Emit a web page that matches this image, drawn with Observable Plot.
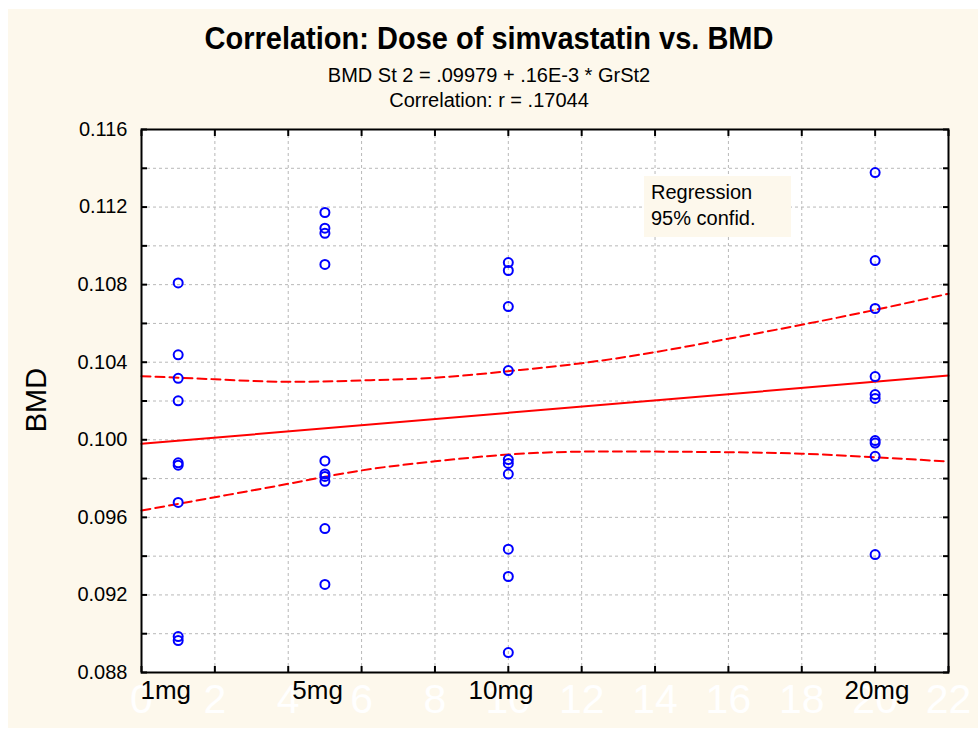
<!DOCTYPE html>
<html><head><meta charset="utf-8">
<script src="https://cdn.jsdelivr.net/npm/d3@7"></script>
<script src="https://cdn.jsdelivr.net/npm/@observablehq/plot@0.6"></script>
<style>
body{margin:0;background:#fff;font-family:"Liberation Sans",Arial,sans-serif;}
#wrap{position:relative;width:978px;height:733px;overflow:hidden;}
#bg{position:absolute;left:8px;top:9px;width:970px;height:719px;background:#fdf8ec;}
.t{position:absolute;left:0;width:978px;text-align:center;line-height:1;color:#000;white-space:nowrap;}
#title{top:25px;font-size:29px;font-weight:bold;transform:scaleY(1.08);transform-origin:50% 85%;}
#sub1{top:65px;font-size:20px;}
#sub2{top:90px;font-size:20px;}
#chart{position:absolute;left:0;top:0;}
#ylab{position:absolute;left:36px;top:400px;font-size:29px;line-height:1;white-space:nowrap;transform:translate(-50%,-50%) rotate(-90deg);}
#legend{position:absolute;left:644px;top:176px;width:140px;height:58px;padding:3px 0 0 7px;background:#fdf8ec;font-size:20px;line-height:26px;white-space:nowrap;}
</style></head>
<body>
<div id="wrap">
  <div id="bg"></div>
  <div id="chart"></div>
  <div class="t" id="title">Correlation: Dose of simvastatin vs. BMD</div>
  <div class="t" id="sub1">BMD St 2 = .09979 + .16E-3 * GrSt2</div>
  <div class="t" id="sub2">Correlation: r = .17044</div>
  <div id="ylab">BMD</div>
  <div id="legend">Regression<br>95% confid.</div>
</div>
<script>
// ---- data ----
const doseGroups = [1, 5, 10, 20];
const bmd1mg  = [0.10809, 0.10438, 0.10317, 0.10201, 0.09881, 0.09869, 0.09677, 0.08985, 0.08965];
const bmd5mg  = [0.11172, 0.11091, 0.11065, 0.10904, 0.09891, 0.09824, 0.09811, 0.09786, 0.09542, 0.09254];
const bmd10mg = [0.10914, 0.10873, 0.10687, 0.10357, 0.09898, 0.09878, 0.09823, 0.09436, 0.09295, 0.08903];
const bmd20mg = [0.11378, 0.10924, 0.10677, 0.10326, 0.10233, 0.10213, 0.09996, 0.09983, 0.09915, 0.09408];

// regression line endpoints (BMD = .09979 + .00016 * dose)
const regX = [0, 22];
const regY = [0.09979, 0.10331];

// 95% confidence band
const bandX     = [0, 2, 4, 6, 8, 10, 12, 14, 16, 18, 20, 22];
const bandUpper = [0.10328, 0.10312, 0.10299, 0.10306, 0.10320, 0.10354, 0.10395, 0.10452, 0.10521, 0.10593, 0.10670, 0.10753];
const bandLower = [0.09635, 0.09704, 0.09773, 0.09842, 0.09889, 0.09924, 0.09939, 0.09939, 0.09936, 0.09928, 0.09910, 0.09888];

// axis ticks and labels
const xTicks = [0, 2, 4, 6, 8, 10, 12, 14, 16, 18, 20, 22];
const yLabelTicks = [0.088, 0.092, 0.096, 0.100, 0.104, 0.108, 0.112, 0.116];
const yGridTicks = [0.088, 0.090, 0.092, 0.094, 0.096, 0.098, 0.100, 0.102, 0.104, 0.106, 0.108, 0.110, 0.112, 0.114, 0.116];
const doseLabels = ["1mg", "5mg", "10mg", "20mg"];
const doseLabelX = [0.66, 4.8, 9.8, 20.05];

// ---- build tables ----
const groups = [bmd1mg, bmd5mg, bmd10mg, bmd20mg];
const points = groups.flatMap((arr, i) => arr.map(v => ({dose: doseGroups[i], bmd: v})));
const reg = regX.map((x, i) => ({x, y: regY[i]}));
const upper = bandX.map((x, i) => ({x, y: bandUpper[i]}));
const lower = bandX.map((x, i) => ({x, y: bandLower[i]}));
const doseLab = doseLabels.map((t, i) => ({t, x: doseLabelX[i]}));

const blank = () => "";
const font = '"Liberation Sans", Arial, sans-serif';

const chart = Plot.plot({
  width: 978,
  height: 733,
  marginLeft: 141,
  marginRight: 30,
  marginTop: 129,
  marginBottom: 61,
  style: {background: "transparent", fontFamily: font, overflow: "visible"},
  x: {domain: [0, 22]},
  y: {domain: [0.088, 0.116]},
  marks: [
    Plot.frame({fill: "white", stroke: null}),
    Plot.gridY(yGridTicks, {stroke: "#b8b8b8", strokeOpacity: 1, strokeDasharray: "3,3"}),
    Plot.gridX(xTicks, {stroke: "#b8b8b8", strokeOpacity: 1, strokeDasharray: "3,3"}),
    Plot.axisY(yGridTicks, {anchor: "left", tickSize: -6, tickFormat: blank, label: null, strokeWidth: 2}),
    Plot.axisY(yGridTicks, {anchor: "right", tickSize: -6, tickFormat: blank, label: null, strokeWidth: 2}),
    Plot.axisX(xTicks, {anchor: "bottom", tickSize: -6, tickFormat: blank, label: null, strokeWidth: 2}),
    Plot.axisX(xTicks, {anchor: "top", tickSize: -6, tickFormat: blank, label: null, strokeWidth: 2}),
    Plot.axisY(yLabelTicks, {anchor: "left", tickSize: 0, tickPadding: 14, tickFormat: d3.format(".3f"), label: null, fontSize: 20, fill: "#000"}),
    Plot.text(xTicks, {x: d => d, frameAnchor: "bottom", dy: 40, fill: "white", fontSize: 41}),
    Plot.text(doseLab, {x: "x", text: "t", frameAnchor: "bottom", dy: 26, fill: "black", fontSize: 26}),
    Plot.line(upper, {x: "x", y: "y", curve: "natural", stroke: "#ff0000", strokeWidth: 2, strokeDasharray: "9,5"}),
    Plot.line(lower, {x: "x", y: "y", curve: "natural", stroke: "#ff0000", strokeWidth: 2, strokeDasharray: "9,5"}),
    Plot.line(reg, {x: "x", y: "y", stroke: "#ff0000", strokeWidth: 2}),
    Plot.dot(points, {x: "dose", y: "bmd", r: 4.5, stroke: "#0000ff", strokeWidth: 2, fill: "none"}),
    Plot.frame({stroke: "black", strokeWidth: 2})
  ]
});
document.getElementById("chart").appendChild(chart);
</script>
</body></html>
